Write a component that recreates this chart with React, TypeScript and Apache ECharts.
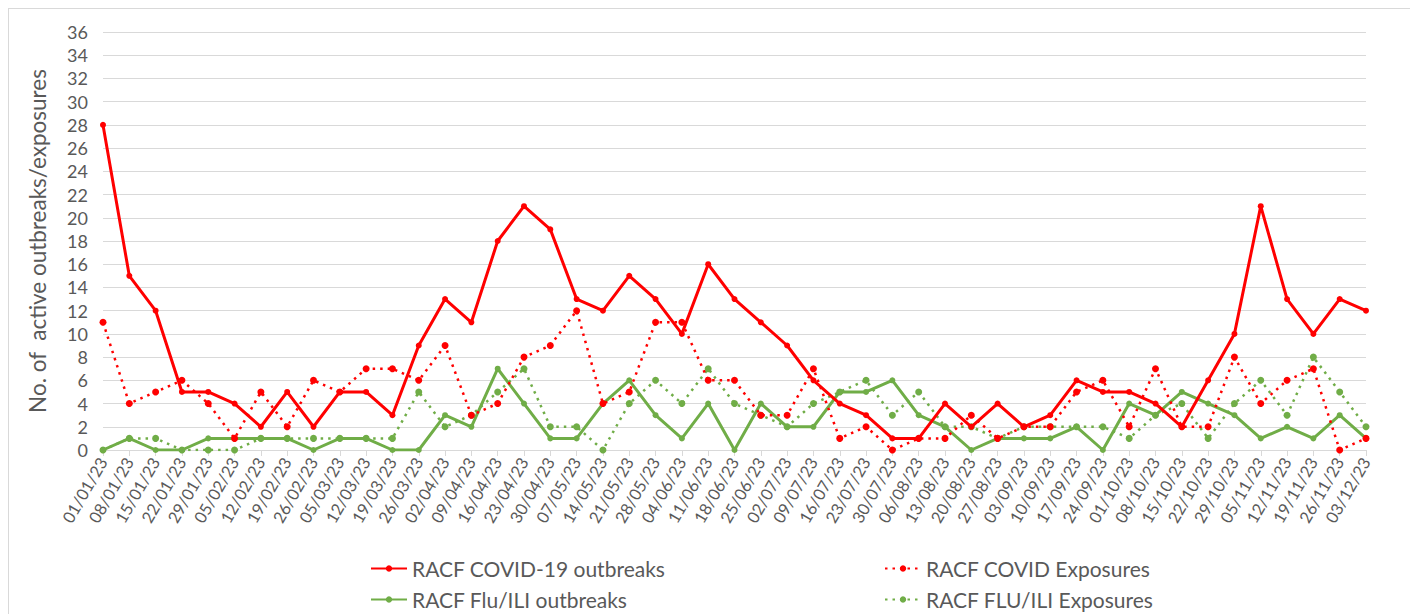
import React, { useEffect, useRef } from "react";
import * as echarts from "echarts";

const categories = [
  "01/01/23","08/01/23","15/01/23","22/01/23","29/01/23","05/02/23","12/02/23","19/02/23","26/02/23",
  "05/03/23","12/03/23","19/03/23","26/03/23","02/04/23","09/04/23","16/04/23","23/04/23","30/04/23",
  "07/05/23","14/05/23","21/05/23","28/05/23","04/06/23","11/06/23","18/06/23","25/06/23","02/07/23",
  "09/07/23","16/07/23","23/07/23","30/07/23","06/08/23","13/08/23","20/08/23","27/08/23","03/09/23",
  "10/09/23","17/09/23","24/09/23","01/10/23","08/10/23","15/10/23","22/10/23","29/10/23","05/11/23",
  "12/11/23","19/11/23","26/11/23","03/12/23",
];

const covidOutbreaks = [
  28, 15, 12, 5, 5, 4, 2, 5, 2, 5, 5, 3, 9, 13, 11, 18, 21, 19, 13, 12, 15, 13, 10, 16, 13, 11, 9,
  6, 4, 3, 1, 1, 4, 2, 4, 2, 3, 6, 5, 5, 4, 2, 6, 10, 21, 13, 10, 13, 12,
];
const covidExposures = [
  11, 4, 5, 6, 4, 1, 5, 2, 6, 5, 7, 7, 6, 9, 3, 4, 8, 9, 12, 4, 5, 11, 11, 6, 6, 3, 3,
  7, 1, 2, 0, 1, 1, 3, 1, 2, 2, 5, 6, 2, 7, 2, 2, 8, 4, 6, 7, 0, 1,
];
const fluOutbreaks = [
  0, 1, 0, 0, 1, 1, 1, 1, 0, 1, 1, 0, 0, 3, 2, 7, 4, 1, 1, 4, 6, 3, 1, 4, 0, 4, 2,
  2, 5, 5, 6, 3, 2, 0, 1, 1, 1, 2, 0, 4, 3, 5, 4, 3, 1, 2, 1, 3, 1,
];
const fluExposures = [
  0, 1, 1, 0, 0, 0, 1, 1, 1, 1, 1, 1, 5, 2, 3, 5, 7, 2, 2, 0, 4, 6, 4, 7, 4, 3, 2,
  4, 5, 6, 3, 5, 2, 2, 1, 2, 2, 2, 2, 1, 3, 4, 1, 4, 6, 3, 8, 5, 2,
];

const RED = "#FF0000";
const GREEN = "#70AD47";
const TEXT = "#595959";
const FONT = "Lato, 'Open Sans', sans-serif";

export default function App() {
  const ref = useRef<HTMLDivElement>(null);
  useEffect(() => {
    if (!ref.current) return;
    const chart = echarts.init(ref.current, undefined, { renderer: "svg" });
    const legendText = { color: TEXT, fontSize: 21, fontFamily: FONT };
    const mkLegend = (name: string, left: number, top: number) => ({
      data: [name],
      left,
      top,
      padding: 0,
      orient: "horizontal",
      itemWidth: 36,
      itemHeight: 8,
      textStyle: legendText,
      selectedMode: false,
    });
    chart.setOption({
      animation: false,
      textStyle: { fontFamily: FONT },
      grid: { left: 94, right: 45, top: 23, bottom: 164, containLabel: false },
      legend: [
        mkLegend("RACF COVID-19 outbreaks", 361, 549),
        mkLegend("RACF COVID Exposures", 875, 549),
        mkLegend("RACF Flu/ILI outbreaks", 361, 580),
        mkLegend("RACF FLU/ILI Exposures", 875, 580),
      ],
      xAxis: {
        type: "category",
        data: categories,
        boundaryGap: false,
        axisLine: { lineStyle: { color: "#D9D9D9", width: 1 } },
        axisTick: { show: true, length: 6, alignWithLabel: true, lineStyle: { color: "#D9D9D9" } },
        axisLabel: {
          rotate: 60,
          interval: 0,
          margin: 9,
          color: TEXT,
          fontSize: 16.5,
          fontFamily: FONT,
        },
      },
      yAxis: {
        type: "value",
        min: 0,
        max: 36,
        interval: 2,
        name: "No. of  active outbreaks/exposures",
        nameLocation: "middle",
        nameGap: 54,
        nameTextStyle: { color: TEXT, fontSize: 22.5, fontFamily: FONT },
        axisLine: { show: false },
        axisTick: { show: false },
        axisLabel: { color: TEXT, fontSize: 18, margin: 15, fontFamily: FONT },
        splitLine: { lineStyle: { color: "#D9D9D9", width: 1 } },
      },
      series: [
        {
          name: "RACF COVID-19 outbreaks",
          type: "line",
          data: covidOutbreaks,
          color: RED,
          symbol: "circle",
          symbolSize: 6,
          lineStyle: { width: 3, color: RED },
          itemStyle: { color: RED },
          z: 4,
        },
        {
          name: "RACF COVID Exposures",
          type: "line",
          data: covidExposures,
          color: RED,
          symbol: "circle",
          symbolSize: 7,
          lineStyle: { width: 2.5, color: RED, type: [2.5, 5] },
          itemStyle: { color: RED },
          z: 3,
        },
        {
          name: "RACF Flu/ILI outbreaks",
          type: "line",
          data: fluOutbreaks,
          color: GREEN,
          symbol: "circle",
          symbolSize: 6,
          lineStyle: { width: 3, color: GREEN },
          itemStyle: { color: GREEN },
          z: 2,
        },
        {
          name: "RACF FLU/ILI Exposures",
          type: "line",
          data: fluExposures,
          color: GREEN,
          symbol: "circle",
          symbolSize: 7,
          lineStyle: { width: 2.5, color: GREEN, type: [2.5, 5] },
          itemStyle: { color: GREEN },
          z: 1,
        },
      ],
    });
    return () => chart.dispose();
  }, []);
  return (
    <div
      ref={ref}
      style={{
        width: 1402,
        height: 605,
        borderTop: "1px solid #D9D9D9",
        borderLeft: "1px solid #D9D9D9",
        borderRight: "1px solid #D9D9D9",
        background: "#fff",
      }}
    />
  );
}
